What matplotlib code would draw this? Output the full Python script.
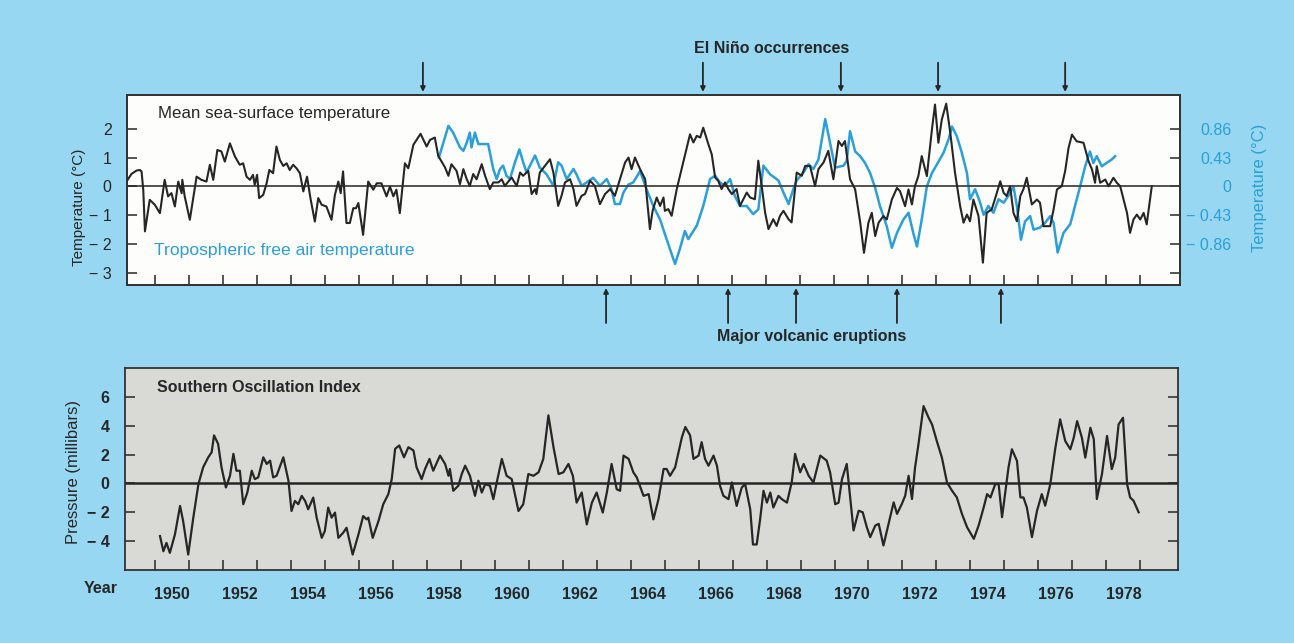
import matplotlib
matplotlib.use("Agg")
import matplotlib.pyplot as plt

plt.rcParams['font.family'] = ['Liberation Sans', 'DejaVu Sans']

# Mean sea-surface temperature (deg C anomaly)
sst_years = [1949.20, 1949.31, 1949.46, 1949.56, 1949.61, 1949.66, 1949.71, 1949.85, 1950.00, 1950.15,
             1950.29, 1950.39, 1950.49, 1950.59, 1950.69, 1950.79, 1950.81, 1950.88, 1951.03, 1951.23,
             1951.37, 1951.52, 1951.62, 1951.72, 1951.84, 1951.96, 1952.06, 1952.21, 1952.36, 1952.50,
             1952.60, 1952.70, 1952.80, 1952.89, 1952.94, 1953.01, 1953.07, 1953.19, 1953.29, 1953.37,
             1953.48, 1953.58, 1953.68, 1953.78, 1953.88, 1953.97, 1954.07, 1954.17, 1954.27, 1954.37,
             1954.48, 1954.58, 1954.71, 1954.81, 1954.91, 1955.05, 1955.20, 1955.30, 1955.40, 1955.47,
             1955.54, 1955.64, 1955.74, 1955.84, 1955.92, 1955.99, 1956.13, 1956.28, 1956.43, 1956.53,
             1956.67, 1956.82, 1956.92, 1957.02, 1957.11, 1957.21, 1957.36, 1957.46, 1957.61, 1957.82,
             1958.00, 1958.10, 1958.24, 1958.34, 1958.54, 1958.64, 1958.73, 1958.88, 1958.98, 1959.08,
             1959.18, 1959.27, 1959.37, 1959.47, 1959.62, 1959.72, 1959.86, 1959.96, 1960.11, 1960.21,
             1960.30, 1960.50, 1960.65, 1960.75, 1960.84, 1960.99, 1961.09, 1961.19, 1961.23, 1961.33,
             1961.48, 1961.63, 1961.73, 1961.87, 1961.97, 1962.07, 1962.22, 1962.32, 1962.41, 1962.56,
             1962.66, 1962.81, 1962.95, 1963.10, 1963.25, 1963.40, 1963.54, 1963.69, 1963.84, 1963.94,
             1964.03, 1964.13, 1964.28, 1964.43, 1964.57, 1964.65, 1964.77, 1964.87, 1964.97, 1965.01,
             1965.11, 1965.21, 1965.36, 1965.55, 1965.75, 1965.85, 1965.95, 1966.05, 1966.14, 1966.29,
             1966.39, 1966.49, 1966.58, 1966.68, 1966.78, 1966.88, 1966.98, 1967.12, 1967.22, 1967.32,
             1967.42, 1967.52, 1967.66, 1967.76, 1967.86, 1967.96, 1968.06, 1968.20, 1968.30, 1968.40,
             1968.50, 1968.65, 1968.74, 1968.84, 1968.89, 1969.04, 1969.14, 1969.28, 1969.43, 1969.53,
             1969.68, 1969.82, 1969.97, 1970.12, 1970.22, 1970.31, 1970.46, 1970.61, 1970.76, 1970.87,
             1971.00, 1971.10, 1971.20, 1971.30, 1971.44, 1971.54, 1971.69, 1971.84, 1971.93, 1972.08,
             1972.18, 1972.28, 1972.37, 1972.47, 1972.57, 1972.72, 1972.87, 1972.96, 1973.06, 1973.16,
             1973.29, 1973.41, 1973.55, 1973.70, 1973.80, 1973.90, 1973.99, 1974.09, 1974.24, 1974.37,
             1974.48, 1974.63, 1974.78, 1974.88, 1974.98, 1975.07, 1975.17, 1975.27, 1975.37, 1975.47,
             1975.56, 1975.66, 1975.81, 1975.96, 1976.05, 1976.15, 1976.35, 1976.45, 1976.55, 1976.69,
             1976.79, 1976.89, 1976.99, 1977.13, 1977.33, 1977.48, 1977.58, 1977.67, 1977.72, 1977.82,
             1977.97, 1978.07, 1978.21, 1978.31, 1978.41, 1978.51, 1978.61, 1978.70, 1978.80, 1978.90,
             1979.00, 1979.10, 1979.19, 1979.34]
sst_values = [0.23, 0.43, 0.55, 0.57, 0.52, -0.11, -1.55, -0.46, -0.63, -0.92,
              0.23, -0.34, -0.23, -0.69, 0.17, -0.23, 0.23, -0.34, -1.15, 0.34,
              0.23, 0.17, 0.75, 0.23, 1.26, 1.21, 0.86, 1.49, 1.03, 0.75,
              0.80, 0.34, 0.23, 0.40, 0.06, 0.40, -0.40, -0.29, 0.11, 0.57,
              0.46, 1.38, 0.92, 0.71, 0.80, 0.57, 0.75, 0.63, 0.46, -0.17,
              0.34, -0.40, -1.21, -0.40, -0.63, -0.69, -1.15, -0.29, 0.17, -0.23,
              0.52, -1.26, -1.26, -0.75, -0.75, -0.57, -1.67, 0.17, -0.11, 0.11,
              0.11, -0.34, 0.00, -0.34, -0.11, -0.92, 0.80, 0.63, 1.44, 1.82,
              1.38, 1.61, 1.69, 1.06, 0.66, 0.37, 0.77, 0.54, 0.08, 0.60,
              0.25, 0.02, 0.43, 0.25, 0.77, 0.37, -0.09, 0.14, 0.14, 0.25,
              0.02, 0.31, 0.02, 0.48, 0.37, 0.54, -0.26, -0.09, -0.26, 0.48,
              0.71, 0.94, 0.48, -0.67, -0.32, 0.14, 0.25, -0.09, -0.67, -0.32,
              -0.26, 0.20, 0.02, -0.61, -0.26, -0.09, -0.32, 0.25, 0.83, 1.00,
              0.60, 1.00, 0.60, 0.25, -1.47, -0.84, -0.38, -0.67, -0.38, -0.84,
              -0.78, -1.01, -0.09, 0.83, 1.80, 1.52, 1.75, 1.69, 2.03, 1.46,
              1.11, 0.31, 0.20, -0.09, 0.14, -0.09, -0.26, -0.09, -0.67, -0.44,
              -0.21, -0.38, -0.44, 0.89, 0.02, -0.90, -1.47, -1.13, -1.36, -1.01,
              -0.84, -1.13, -1.24, -0.09, 0.48, 0.37, 0.71, 0.71, 0.02, 0.60,
              0.83, 1.23, 0.25, 1.57, 1.40, 1.57, 0.25, -0.10, -1.25, -2.29,
              -1.25, -0.91, -1.71, -1.25, -1.02, -1.14, -0.45, -0.05, -0.16, -0.68,
              -0.10, -0.62, 0.01, 0.36, 1.05, 0.36, 1.97, 2.83, 1.51, 2.31,
              2.86, 1.85, 0.47, -0.68, -1.25, -0.97, -1.20, -0.45, -1.02, -2.63,
              -0.91, -0.79, -0.22, 0.18, -0.22, -0.33, 0.01, -0.91, -1.20, -0.33,
              -0.10, 0.30, -0.62, -0.45, -0.56, -1.37, -1.37, -0.79, -0.10, 0.01,
              0.53, 1.33, 1.79, 1.56, 1.51, 0.87, 0.59, 0.13, 0.70, 0.13,
              0.24, 0.01, 0.30, 0.13, 0.01, -0.45, -0.91, -1.60, -1.14, -0.97,
              -1.14, -0.91, -1.31, 0.01]

# Tropospheric free air temperature (deg C, right-hand scale)
trop_years = [1958.36, 1958.64, 1958.78, 1958.98, 1959.08, 1959.18, 1959.27, 1959.32, 1959.42, 1959.52,
              1959.81, 1959.96, 1960.06, 1960.16, 1960.25, 1960.35, 1960.45, 1960.60, 1960.73, 1960.84,
              1960.94, 1961.04, 1961.19, 1961.33, 1961.53, 1961.73, 1961.87, 1961.97, 1962.12, 1962.32,
              1962.41, 1962.56, 1962.71, 1962.90, 1963.10, 1963.30, 1963.44, 1963.54, 1963.69, 1963.79,
              1963.94, 1964.08, 1964.28, 1964.47, 1964.67, 1964.87, 1965.06, 1965.31, 1965.45, 1965.60,
              1965.70, 1965.95, 1966.14, 1966.34, 1966.49, 1966.63, 1966.78, 1966.93, 1967.07, 1967.22,
              1967.42, 1967.61, 1967.76, 1967.91, 1968.11, 1968.35, 1968.50, 1968.65, 1968.79, 1968.89,
              1969.09, 1969.24, 1969.38, 1969.53, 1969.73, 1969.87, 1970.02, 1970.27, 1970.36, 1970.46,
              1970.61, 1970.76, 1970.90, 1971.05, 1971.20, 1971.34, 1971.54, 1971.69, 1971.84, 1972.03,
              1972.18, 1972.33, 1972.43, 1972.57, 1972.72, 1972.87, 1973.02, 1973.21, 1973.36, 1973.46,
              1973.60, 1973.75, 1973.90, 1973.99, 1974.14, 1974.29, 1974.39, 1974.53, 1974.68, 1974.83,
              1974.98, 1975.12, 1975.27, 1975.37, 1975.49, 1975.61, 1975.76, 1975.86, 1976.05, 1976.20,
              1976.35, 1976.45, 1976.57, 1976.74, 1976.94, 1977.08, 1977.23, 1977.38, 1977.52, 1977.62,
              1977.72, 1977.87, 1978.01, 1978.16, 1978.26]
trop_values = [0.43, 0.90, 0.80, 0.58, 0.53, 0.65, 0.80, 0.58, 0.80, 0.63,
               0.63, 0.26, 0.11, 0.26, 0.31, 0.16, 0.11, 0.36, 0.55, 0.36,
               0.21, 0.31, 0.46, 0.28, 0.18, 0.01, 0.36, 0.31, 0.11, 0.26,
               0.18, 0.01, 0.06, 0.13, 0.01, 0.11, -0.04, -0.26, -0.26, -0.09,
               0.03, 0.06, 0.23, -0.04, -0.29, -0.49, -0.78, -1.15, -0.93, -0.66,
               -0.78, -0.58, -0.29, 0.11, 0.16, 0.06, 0.01, 0.11, -0.14, -0.29,
               -0.29, -0.41, -0.34, 0.31, 0.18, 0.09, -0.09, -0.26, -0.04, 0.09,
               0.21, 0.33, 0.26, 0.40, 1.00, 0.65, 0.28, 0.31, 0.38, 0.82,
               0.52, 0.45, 0.35, 0.20, -0.02, -0.29, -0.59, -0.91, -0.69, -0.49,
               -0.39, -0.71, -0.89, -0.49, 0.00, 0.20, 0.33, 0.50, 0.70, 0.89,
               0.75, 0.50, 0.20, -0.19, -0.04, -0.24, -0.42, -0.29, -0.39, -0.19,
               -0.24, -0.14, 0.00, -0.29, -0.79, -0.52, -0.44, -0.64, -0.61, -0.54,
               -0.44, -0.54, -0.98, -0.69, -0.56, -0.29, 0.00, 0.30, 0.52, 0.35,
               0.45, 0.30, 0.35, 0.40, 0.45]

# Southern Oscillation Index (millibars)
soi_years = [1950.15, 1950.25, 1950.34, 1950.44, 1950.59, 1950.74, 1950.83, 1950.98, 1951.13, 1951.28,
             1951.42, 1951.57, 1951.67, 1951.74, 1951.86, 1951.96, 1952.09, 1952.21, 1952.31, 1952.40,
             1952.50, 1952.60, 1952.72, 1952.85, 1952.94, 1953.04, 1953.19, 1953.29, 1953.39, 1953.48,
             1953.58, 1953.78, 1953.93, 1954.02, 1954.12, 1954.22, 1954.32, 1954.42, 1954.51, 1954.66,
             1954.76, 1954.91, 1955.00, 1955.10, 1955.20, 1955.30, 1955.40, 1955.54, 1955.64, 1955.82,
             1955.99, 1956.13, 1956.23, 1956.28, 1956.41, 1956.58, 1956.72, 1956.87, 1956.97, 1957.07,
             1957.19, 1957.33, 1957.46, 1957.61, 1957.70, 1957.85, 1957.95, 1958.08, 1958.19, 1958.39,
             1958.54, 1958.64, 1958.68, 1958.78, 1958.93, 1959.03, 1959.13, 1959.27, 1959.42, 1959.52,
             1959.62, 1959.72, 1959.86, 1959.96, 1960.06, 1960.21, 1960.35, 1960.50, 1960.70, 1960.84,
             1960.99, 1961.14, 1961.29, 1961.43, 1961.58, 1961.73, 1961.88, 1962.02, 1962.17, 1962.30,
             1962.41, 1962.56, 1962.71, 1962.86, 1963.00, 1963.18, 1963.30, 1963.44, 1963.59, 1963.69,
             1963.79, 1963.94, 1964.08, 1964.18, 1964.38, 1964.53, 1964.67, 1964.82, 1964.97, 1965.06,
             1965.16, 1965.31, 1965.51, 1965.61, 1965.75, 1965.85, 1966.00, 1966.09, 1966.19, 1966.29,
             1966.44, 1966.54, 1966.63, 1966.73, 1966.88, 1966.98, 1967.12, 1967.27, 1967.37, 1967.52,
             1967.60, 1967.71, 1967.81, 1967.91, 1968.01, 1968.11, 1968.20, 1968.35, 1968.45, 1968.60,
             1968.74, 1968.84, 1968.99, 1969.09, 1969.24, 1969.38, 1969.58, 1969.77, 1969.87, 1970.02,
             1970.12, 1970.22, 1970.36, 1970.46, 1970.56, 1970.71, 1970.83, 1970.95, 1971.05, 1971.20,
             1971.30, 1971.44, 1971.59, 1971.74, 1971.84, 1971.98, 1972.08, 1972.18, 1972.28, 1972.37,
             1972.47, 1972.62, 1972.77, 1972.87, 1973.01, 1973.16, 1973.31, 1973.46, 1973.60, 1973.75,
             1973.90, 1974.10, 1974.24, 1974.39, 1974.49, 1974.59, 1974.73, 1974.83, 1974.93, 1975.03,
             1975.12, 1975.22, 1975.37, 1975.47, 1975.56, 1975.66, 1975.81, 1975.96, 1976.10, 1976.20,
             1976.35, 1976.50, 1976.64, 1976.79, 1976.94, 1977.04, 1977.14, 1977.28, 1977.38, 1977.53,
             1977.63, 1977.72, 1977.87, 1978.02, 1978.16, 1978.26, 1978.36, 1978.49, 1978.61, 1978.70,
             1978.80, 1978.95]
soi_values = [-3.65, -4.70, -4.12, -4.81, -3.53, -1.56, -2.60, -4.93, -2.37, -0.05,
              1.12, 1.81, 2.16, 3.33, 2.74, 1.12, -0.28, 0.53, 2.05, 0.88,
              0.88, -1.44, -0.63, 0.88, 0.30, 0.42, 1.81, 1.35, 1.58, 0.42,
              0.53, 1.81, 0.19, -1.91, -1.21, -1.44, -0.86, -1.21, -1.79, -0.98,
              -2.37, -3.77, -3.30, -1.67, -2.37, -2.02, -3.77, -3.42, -3.07, -4.93,
              -3.53, -2.26, -2.49, -2.37, -3.77, -2.60, -1.44, -0.74, 0.30, 2.40,
              2.63, 1.81, 2.51, 2.28, 1.12, 0.30, 1.00, 1.70, 0.88, 1.93,
              1.35, 0.53, 1.00, -0.51, -0.16, 0.65, 1.23, 0.53, -0.86, 0.19,
              -0.63, -0.05, -0.16, -1.09, 0.07, 1.70, 0.53, 0.30, -1.91, -1.44,
              0.65, 0.53, 0.77, 1.70, 4.72, 2.51, 0.65, 0.77, 1.35, 0.53,
              -1.33, -0.63, -2.84, -1.33, -0.63, -2.02, -0.63, 1.35, -0.40, -0.51,
              1.93, 1.70, 0.77, 0.42, -0.86, -0.74, -2.49, -1.09, 1.00, 1.00,
              0.53, 1.12, 3.21, 3.91, 3.33, 1.70, 1.93, 2.86, 1.70, 1.23,
              1.93, 1.23, -0.16, -0.86, -1.09, 0.07, -1.56, -0.28, -0.05, -1.79,
              -4.23, -4.23, -2.49, -0.51, -1.33, -0.63, -1.67, -0.86, -1.09, -1.33,
              0.07, 2.05, 0.77, 1.35, 0.53, 0.07, 1.93, 1.58, 0.77, -1.44,
              -1.33, 0.30, 1.35, -0.97, -3.26, -1.89, -2.00, -3.03, -3.72, -2.92,
              -2.80, -4.30, -2.80, -1.31, -2.11, -1.43, -0.85, 0.53, -1.08, 1.10,
              2.71, 5.36, 4.55, 4.09, 2.94, 1.79, 0.07, -0.51, -0.97, -2.11,
              -3.03, -3.84, -2.92, -1.66, -0.74, -0.97, -0.05, -0.05, -2.34, -0.51,
              1.10, 2.37, 1.56, -0.97, -0.97, -1.66, -3.72, -1.89, -0.74, -1.54,
              -0.05, 2.48, 4.44, 2.94, 2.37, 3.17, 4.32, 3.17, 1.79, 3.86,
              3.06, -1.08, 0.64, 3.29, 0.99, 1.79, 4.09, 4.55, -0.05, -0.97,
              -1.20, -2.00]

elnino_years = [1957.89, 1966.13, 1970.19, 1973.05, 1976.79]
volcano_years = [1963.28, 1966.87, 1968.87, 1971.84, 1974.90]

year_ticks = list(range(1950, 1980))
year_labels = [str(y) for y in range(1950, 1979, 2)]
temp_ticks = [-3, -2, -1, 0, 1, 2]
temp_labels = ['\u2212 3', '\u2212 2', '\u2212 1', '0', '1', '2']
trop_ticks = [-1.29, -0.86, -0.43, 0, 0.43, 0.86]
trop_labels = ['', '\u2212 0.86', '\u2212 0.43', '0', '0.43', '0.86']
soi_ticks = [-4, -2, 0, 2, 4, 6]
soi_labels = ['\u2212 4', '\u2212 2', '0', '2', '4', '6']

BG = '#97d7f1'
INK = '#262626'
BLUE = '#2a9fd9'

fig = plt.figure(figsize=(12.94, 6.43), dpi=100, facecolor=BG)
ax1 = fig.add_axes([0.0981, 0.5568, 0.8138, 0.2955], facecolor='#fdfdfc')
ax2 = fig.add_axes([0.0966, 0.1135, 0.8138, 0.3142], facecolor='#d9dad6')

xlim = (1949.18, 1980.17)
t_lim = (-3.40, 3.16)

# --- top panel: temperatures
ax1.axhline(0, color='#444444', lw=1.3, zorder=1)
ax1.plot(sst_years, sst_values, color=INK, lw=1.5, zorder=3)
ax1.set_xlim(xlim)
ax1.set_ylim(t_lim)
ax1.set_xticks(year_ticks)
ax1.set_xticklabels([])
ax1.set_yticks(temp_ticks, temp_labels)
ax1.tick_params(direction='in', length=7, width=1.1, colors=INK, labelsize=11.5, pad=11)
ax1.set_ylabel('Temperature (\u00b0C)', fontsize=11, color=INK)
ax1.yaxis.set_label_coords(-0.039, 0.41)

axr = ax1.twinx()
axr.plot(trop_years, trop_values, color=BLUE, lw=1.8, zorder=2)
axr.set_ylim(t_lim[0] * 0.43, t_lim[1] * 0.43)
axr.set_yticks(trop_ticks, trop_labels)
axr.tick_params(direction='in', length=7, width=1.1, color=INK, labelcolor=BLUE, labelsize=11.5, pad=37)
for lab in axr.get_yticklabels():
    lab.set_horizontalalignment('right')
axr.set_ylabel('Temperature (\u00b0C)', fontsize=12, color=BLUE)
axr.yaxis.set_label_coords(1.068, 0.51)
ax1.set_zorder(axr.get_zorder() + 1)
ax1.patch.set_visible(False)
axr.patch.set_visible(True)
axr.patch.set_facecolor('#fdfdfc')

ax1.text(0.0294, 0.905, 'Mean sea-surface temperature', transform=ax1.transAxes,
         fontsize=12.2, color=INK, va='center')
ax1.text(0.0256, 0.179, 'Tropospheric free air temperature', transform=ax1.transAxes,
         fontsize=12.6, color=BLUE, va='center')

for y in elnino_years:
    ax1.annotate('', xy=(y, 1.016), xytext=(y, 1.17), xycoords=('data', 'axes fraction'),
                 annotation_clip=False,
                 arrowprops=dict(arrowstyle='-|>', lw=1.3, color=INK, mutation_scale=7,
                                 shrinkA=0, shrinkB=0))
for y in volcano_years:
    ax1.annotate('', xy=(y, -0.016), xytext=(y, -0.20), xycoords=('data', 'axes fraction'),
                 annotation_clip=False,
                 arrowprops=dict(arrowstyle='-|>', lw=1.3, color=INK, mutation_scale=7,
                                 shrinkA=0, shrinkB=0))

fig.text(0.5966, 0.9253, 'El Ni\u00f1o occurrences', fontsize=11.5, fontweight='bold',
         color=INK, ha='center', va='center')
fig.text(0.6275, 0.4759, 'Major volcanic eruptions', fontsize=11.5, fontweight='bold',
         color=INK, ha='center', va='center')

# --- bottom panel: Southern Oscillation Index
ax2.axhline(0, color=INK, lw=1.8, zorder=1)
ax2.plot(soi_years, soi_values, color=INK, lw=1.6, zorder=3)
ax2.set_xlim(1949.12, 1980.11)
ax2.set_ylim(-6.0, 8.0)
ax2.set_xticks(year_ticks)
ax2.set_xticklabels([])
ax2.set_xticks([int(s) + 0.5 for s in year_labels], year_labels, minor=True)
ax2.set_yticks(soi_ticks, soi_labels)
ax2.tick_params(which='major', direction='in', length=7, width=1.1, colors=INK,
                labelsize=11.5, pad=11, right=True, labelright=False)
ax2.tick_params(which='minor', axis='x', length=0, pad=12, labelsize=11.5, colors=INK)
for lab in ax2.get_xticklabels(minor=True) + ax2.get_yticklabels():
    lab.set_fontweight('bold')
ax2.set_ylabel('Pressure (millibars)', fontsize=12, color=INK)
ax2.yaxis.set_label_coords(-0.0415, 0.485)
ax2.text(0.0304, 0.901, 'Southern Oscillation Index', transform=ax2.transAxes,
         fontsize=11.5, fontweight='bold', color=INK, va='center')
fig.text(0.078, 0.0855, 'Year', fontsize=11.5, fontweight='bold', color=INK,
         ha='center', va='center')

for a in (ax1, axr, ax2):
    for s in a.spines.values():
        s.set_color('#333333')
        s.set_linewidth(1.3)

fig.savefig('out.png', dpi=100, facecolor=BG)
